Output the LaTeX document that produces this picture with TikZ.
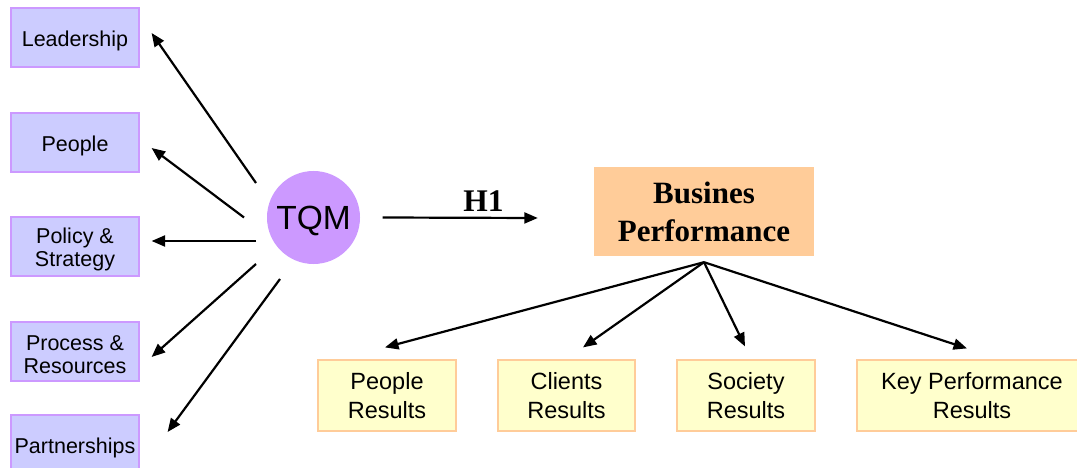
\documentclass[tikz,border=0pt]{standalone}
\usepackage{fontspec}
\setmainfont{Liberation Sans}
\newfontfamily\serifbf{Liberation Serif}
\usetikzlibrary{arrows.meta,calc}
\definecolor{lavfill}{HTML}{CCCCFF}
\definecolor{lavline}{HTML}{CC99FF}
\definecolor{tqmfill}{HTML}{CC99FF}
\definecolor{bpfill}{HTML}{FFCC99}
\definecolor{resfill}{HTML}{FFFFCC}
\definecolor{resline}{HTML}{FFCC99}
\newcommand{\lift}[1]{\rule{0pt}{#1}}
\tikzset{
  leftbox/.style={draw=lavline, line width=1.2pt, fill=lavfill, minimum width=128pt, minimum height=59pt, inner sep=0pt, align=center, font=\fontsize{21.5}{23}\selectfont},
  resbox/.style={draw=resline, line width=1.2pt, fill=resfill, minimum height=71pt, inner sep=0pt, align=center, font=\fontsize{23.5}{28.5}\selectfont},
  arr/.style={line width=2.2pt, -{Triangle[length=13.5pt,width=11pt]}},
}
\begin{document}
\begin{tikzpicture}[x=1pt,y=-1pt]
\useasboundingbox (0,0) rectangle (1077,468);
\fill[white] (0,0) rectangle (1077,468);
% left boxes
\node[leftbox] (lead) at (75,37.5) {\lift{23pt}Leadership};
\node[leftbox] (people) at (75,142.5) {\lift{23pt}People};
\node[leftbox] (policy) at (75,246.5) {\lift{20.5pt}Policy \&\\Strategy};
\node[leftbox] (process) at (75,351.5) {\lift{20.5pt}Process \&\\Resources};
\node[leftbox] (partner) at (75,444.5) {\lift{23pt}Partnerships};
% TQM
\node[circle, fill=tqmfill, minimum size=93pt, inner sep=0pt, font=\fontsize{33.5}{36}\selectfont] (tqm) at (313.5,217.5) {\lift{31pt}TQM};
% Business performance
\node[fill=bpfill, minimum width=220pt, minimum height=89pt, inner sep=0pt, align=center, font=\serifbf\bfseries\fontsize{31}{38}\selectfont] (bp) at (704,211.5) {\lift{23pt}Busines\\Performance};
% result boxes
\node[resbox, minimum width=138pt] (pr) at (387,395.5) {People\\Results};
\node[resbox, minimum width=137pt] (cr) at (566.5,395.5) {Clients\\Results};
\node[resbox, minimum width=138pt] (sr) at (746,395.5) {Society\\Results};
\node[resbox, minimum width=230pt] (kr) at (972,395.5) {Key Performance\\Results};
% coordinates for arrow ends
\coordinate (s1) at ($(tqm.center)+(-57.5,-34.5)$);
\coordinate (s2) at ($(tqm.center)+(-69.5,0)$);
\coordinate (s3) at ($(tqm.center)+(-57.5,23.5)$);
\coordinate (s4) at ($(tqm.center)+(-57.5,46.5)$);
\coordinate (s5) at ($(tqm.center)+(-33.5,61.5)$);
\coordinate (e1) at ($(lead.east)+(12,-4.5)$);
\coordinate (e2) at ($(people.east)+(12,5.5)$);
\coordinate (e3) at ($(policy.east)+(12,-5.5)$);
\coordinate (e4) at ($(process.east)+(12,5.5)$);
\coordinate (e5) at ($(partner.east)+(28,-12.5)$);
\draw[arr] (s1) -- (e1);
\draw[arr] (s2) -- (e2);
\draw[arr] (s3) -- (e3);
\draw[arr] (s4) -- (e4);
\draw[arr] (s5) -- (e5);
% H1 arrow
\coordinate (h1s) at ($(tqm.east)+(22.5,0)$);
\coordinate (h1e) at ($(bp.west)+(-56,6.5)$);
\draw[arr] (h1s) -- (h1e) node[pos=0.65, above=5pt, inner sep=0pt, font=\serifbf\bfseries\fontsize{31.5}{32}\selectfont] (h1) {H1};
% fan
\coordinate (fan) at ($(bp.south)+(0,6)$);
\draw[arr] (fan) -- ($(pr.north)+(-2,-12)$);
\draw[arr] (fan) -- ($(cr.north)+(16.5,-12)$);
\draw[arr] (fan) -- ($(sr.north)+(-1,-13)$);
\draw[arr] (fan) -- ($(kr.north)+(-5,-11)$);
\end{tikzpicture}
\end{document}
